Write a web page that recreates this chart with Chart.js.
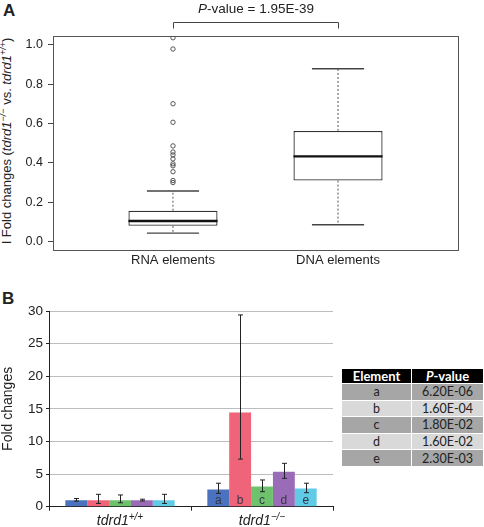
<!DOCTYPE html>
<html>
<head>
<meta charset="utf-8">
<script src="https://cdn.jsdelivr.net/npm/chart.js@4.4.0/dist/chart.umd.min.js"></script>
<style>
  html, body { margin: 0; padding: 0; background: #fff; }
  body { width: 484px; height: 527px; position: relative; overflow: hidden;
         font-family: 'Liberation Sans', Arial, sans-serif; color: #222; }
  #wrapA { position: absolute; left: 0; top: 0; width: 484px; height: 270px; }
  #wrapB { position: absolute; left: 0; top: 270px; width: 340px; height: 257px; }
  .panel { position: absolute; font-weight: bold; font-size: 17px; line-height: 1; }
  #ylabA { position: absolute; left: 6px; top: 141px; white-space: nowrap; font-size: 13px;
           transform: translate(-50%, -50%) rotate(-90deg); line-height: 15px; }
  #ylabA sup { font-size: 9px; line-height: 0; vertical-align: 5px; font-style: italic; }
  #ptab { position: absolute; left: 342px; top: 369px; display: grid;
          grid-template-columns: 69px 71px; grid-template-rows: 14px repeat(5, 15.6px);
          gap: 1px; background: #fff; font-family: Lato, 'Open Sans', sans-serif; font-size: 12.5px; }
  #ptab div { display: flex; align-items: center; justify-content: center; color: #222; }
  #ptab .hd { background: #000; color: #fff; font-weight: bold; font-size: 13px; }
  #ptab .dk { background: #a6a6a6; }
  #ptab .lt { background: #d9d9d9; }
</style>
</head>
<body>
<div class="panel" style="left:3px;top:2px;">A</div>
<div class="panel" style="left:2px;top:290px;">B</div>
<div id="ylabA">I Fold changes (<i>tdrd1</i><sup>&minus;/&minus;</sup> vs. <i>tdrd1</i><sup>+/+</sup>)</div>
<div id="wrapA"><canvas id="boxChart"></canvas></div>
<div id="wrapB"><canvas id="barChart"></canvas></div>
<div id="ptab"></div>

<script>
/* ---- Panel A: box plot summaries ---- */
const boxLabels = ["RNA elements", "DNA elements"];
const boxQ1 = [0.08, 0.31];
const boxMedian = [0.105, 0.433];
const boxQ3 = [0.157, 0.562];
const whiskerLo = [0.043, 0.086];
const whiskerHi = [0.257, 0.878];
const rnaOutliers = [1.035, 0.978, 0.70, 0.606, 0.486, 0.455, 0.44, 0.42, 0.395, 0.385, 0.355, 0.31, 0.30];
const boxTicks = [0, 0.2, 0.4, 0.6, 0.8, 1.0];
const pValueA = "1.95E-39";

/* ---- Panel B: fold changes per element ---- */
const groups = [["tdrd1", "+/+"], ["tdrd1", "\u2212/\u2212"]];
const elements = ["a", "b", "c", "d", "e"];
const wtMean = [1, 1, 1, 1, 1];
const wtLow = [0.85, 0.5, 0.6, 0.87, 0.5];
const wtHigh = [1.25, 1.9, 1.8, 1.15, 1.9];
const koMean = [2.65, 14.45, 3.1, 5.35, 2.8];
const koLow = [2.05, 7.3, 2.3, 4.35, 2.15];
const koHigh = [3.6, 29.4, 4.1, 6.65, 3.6];
const barTicks = [0, 5, 10, 15, 20, 25, 30];
const pValues = ["6.20E-06", "1.60E-04", "1.80E-02", "1.60E-02", "2.30E-03"];

const barColors = ["#4a72be", "#ef6479", "#6fc26d", "#9a6cb7", "#5fcbe6"];
const FONT = "'Liberation Sans', Arial, sans-serif";

Chart.defaults.font.family = FONT;
Chart.defaults.color = "#222";

function drawRich(ctx, parts, cx, baseline) {
  // parts: [text, font, rise]
  let w = 0;
  parts.forEach(p => { ctx.font = p[1]; w += ctx.measureText(p[0]).width; });
  let x = cx - w / 2;
  ctx.textAlign = "left";
  ctx.textBaseline = "alphabetic";
  parts.forEach(p => {
    ctx.font = p[1];
    ctx.fillText(p[0], x, baseline - (p[2] || 0));
    x += ctx.measureText(p[0]).width;
  });
}

/* ---------- chart A ---------- */
const CAP = 0.158, HALF = 0.27;
const stemPts = [], capPts = [], medPts = [];
boxLabels.forEach((_, i) => {
  const x = i + 1;
  stemPts.push({ x, y: boxQ3[i] }, { x, y: whiskerHi[i] }, { x, y: null },
               { x, y: boxQ1[i] }, { x, y: whiskerLo[i] }, { x, y: null });
  capPts.push({ x: x - CAP, y: whiskerHi[i] }, { x: x + CAP, y: whiskerHi[i] }, { x, y: null },
              { x: x - CAP, y: whiskerLo[i] }, { x: x + CAP, y: whiskerLo[i] }, { x, y: null });
  medPts.push({ x: x - HALF, y: boxMedian[i] }, { x: x + HALF, y: boxMedian[i] }, { x, y: null });
});

const boxFrame = {
  id: "boxFrame",
  afterDraw(chart) {
    const { ctx, chartArea: a, scales: { x } } = chart;
    ctx.save();
    ctx.strokeStyle = "#555";
    ctx.lineWidth = 1;
    ctx.strokeRect(Math.round(a.left) + 0.5, Math.round(a.top) + 0.5,
                   Math.round(a.right - a.left), Math.round(a.bottom - a.top));
    // significance bracket
    const x1 = Math.round(x.getPixelForValue(1)) + 0.5, x2 = Math.round(x.getPixelForValue(2)) + 0.5;
    ctx.strokeStyle = "#444";
    ctx.beginPath();
    ctx.moveTo(x1, 28.5); ctx.lineTo(x1, 22.5); ctx.lineTo(x2, 22.5); ctx.lineTo(x2, 28.5);
    ctx.stroke();
    ctx.fillStyle = "#222";
    drawRich(ctx, [["P", "italic 13.5px " + FONT], ["-value = " + pValueA, "13.5px " + FONT]],
             (x1 + x2) / 2, 12.5);
    ctx.restore();
  }
};

new Chart(document.getElementById("boxChart"), {
  type: "bar",
  data: {
    datasets: [
      { type: "bar", data: boxLabels.map((_, i) => ({ x: i + 1, y: [boxQ1[i], boxQ3[i]] })),
        backgroundColor: "#fff", borderColor: "#333", borderWidth: 1.3, borderSkipped: false,
        barPercentage: 0.54, categoryPercentage: 1, order: 5 },
      { type: "line", data: stemPts, borderColor: "#555", borderWidth: 1, borderDash: [2, 2],
        pointRadius: 0, spanGaps: false, order: 4 },
      { type: "line", data: capPts, borderColor: "#444", borderWidth: 1.4,
        pointRadius: 0, spanGaps: false, order: 3 },
      { type: "line", data: rnaOutliers.map(v => ({ x: 1, y: v })), showLine: false,
        pointRadius: 2.2, pointBorderWidth: 0.9, pointBorderColor: "#444",
        pointBackgroundColor: "rgba(255,255,255,0)", order: 2 },
      { type: "line", data: medPts, borderColor: "#111", borderWidth: 2.4,
        pointRadius: 0, spanGaps: false, order: 1 },
    ],
  },
  options: {
    responsive: true, maintainAspectRatio: false, animation: false, events: [],
    layout: { padding: { top: 36, right: 26, left: 0, bottom: 0 } },
    plugins: { legend: { display: false }, tooltip: { enabled: false } },
    scales: {
      x: {
        type: "linear", min: 0.273, max: 2.727, offset: false,
        afterBuildTicks: s => { s.ticks = boxLabels.map((_, i) => ({ value: i + 1 })); },
        ticks: { callback: v => boxLabels[v - 1], font: { size: 13 }, padding: 3, maxRotation: 0 },
        grid: { display: false, drawTicks: false }, border: { display: false },
        afterFit: s => { s.height = 20; },
      },
      y: {
        min: -0.0425, max: 1.044,
        afterBuildTicks: s => { s.ticks = boxTicks.map(v => ({ value: v })); },
        ticks: { callback: v => v.toFixed(1), font: { size: 12.5 }, padding: 5 },
        grid: { drawOnChartArea: false, color: "#444", tickLength: 5 },
        border: { display: false },
        afterFit: s => { s.width = 53; },
      },
    },
  },
  plugins: [boxFrame],
});

/* ---------- chart B ---------- */
const lows = [wtLow, koLow], highs = [wtHigh, koHigh];

const barExtras = {
  id: "barExtras",
  afterDatasetsDraw(chart) {
    const { ctx, scales: { x, y } } = chart;
    ctx.save();
    chart.data.datasets.forEach((ds, i) => {
      chart.getDatasetMeta(i).data.forEach((bar, j) => {
        const bx = Math.round(bar.x) + 0.5;
        const lo = y.getPixelForValue(lows[j][i]), hi = y.getPixelForValue(highs[j][i]);
        ctx.strokeStyle = "#222";
        ctx.lineWidth = 1;
        ctx.beginPath();
        ctx.moveTo(bx, lo); ctx.lineTo(bx, hi);
        ctx.moveTo(bx - 2.5, lo); ctx.lineTo(bx + 2.5, lo);
        ctx.moveTo(bx - 2.5, hi); ctx.lineTo(bx + 2.5, hi);
        ctx.stroke();
        if (j === 1) {
          ctx.fillStyle = "#34354a";
          ctx.font = "12px " + FONT;
          ctx.textAlign = "center";
          ctx.textBaseline = "alphabetic";
          ctx.fillText(elements[i], bar.x, y.getPixelForValue(0) - 2.5);
        }
      });
    });
    // category labels with superscripts
    ctx.fillStyle = "#222";
    groups.forEach((g, j) => {
      drawRich(ctx, [[g[0], "italic 14px " + FONT], [g[1], "italic 10px " + FONT, 5]],
               x.getPixelForValue(j), 254.5);
    });
    ctx.restore();
  }
};

new Chart(document.getElementById("barChart"), {
  type: "bar",
  data: {
    labels: groups.map(g => g[0] + g[1]),
    datasets: elements.map((el, i) => ({
      label: el, data: [wtMean[i], koMean[i]], backgroundColor: barColors[i],
      borderWidth: 0, barPercentage: 1, categoryPercentage: 0.77,
    })),
  },
  options: {
    responsive: true, maintainAspectRatio: false, animation: false, events: [],
    layout: { padding: { top: 41, right: 7, left: 0, bottom: 0 } },
    plugins: { legend: { display: false }, tooltip: { enabled: false } },
    scales: {
      x: {
        ticks: { display: false },
        grid: { drawOnChartArea: false, color: "#222", tickLength: 4, offset: true },
        border: { color: "#222" },
        afterFit: s => { s.height = 20.3; },
      },
      y: {
        min: 0, max: 30,
        afterBuildTicks: s => { s.ticks = barTicks.map(v => ({ value: v })); },
        ticks: { font: { size: 13.5 }, padding: 3, color: "#222" },
        grid: { color: c => (c.tick && c.tick.value === 0 ? "rgba(0,0,0,0)" : "#bdbdbd"),
                tickColor: "#222", tickLength: 3 },
        border: { color: "#222" },
        title: { display: true, text: "Fold changes", font: { size: 14 }, padding: 0, color: "#222" },
        afterFit: s => { s.width = 49; },
      },
    },
  },
  plugins: [barExtras],
});

/* ---------- P-value table ---------- */
const tab = document.getElementById("ptab");
let html = '<div class="hd">Element</div><div class="hd"><i>P</i>-value</div>';
elements.forEach((el, i) => {
  const cls = i % 2 === 0 ? "dk" : "lt";
  html += `<div class="${cls}">${el}</div><div class="${cls}">${pValues[i]}</div>`;
});
tab.innerHTML = html;
</script>
</body>
</html>
